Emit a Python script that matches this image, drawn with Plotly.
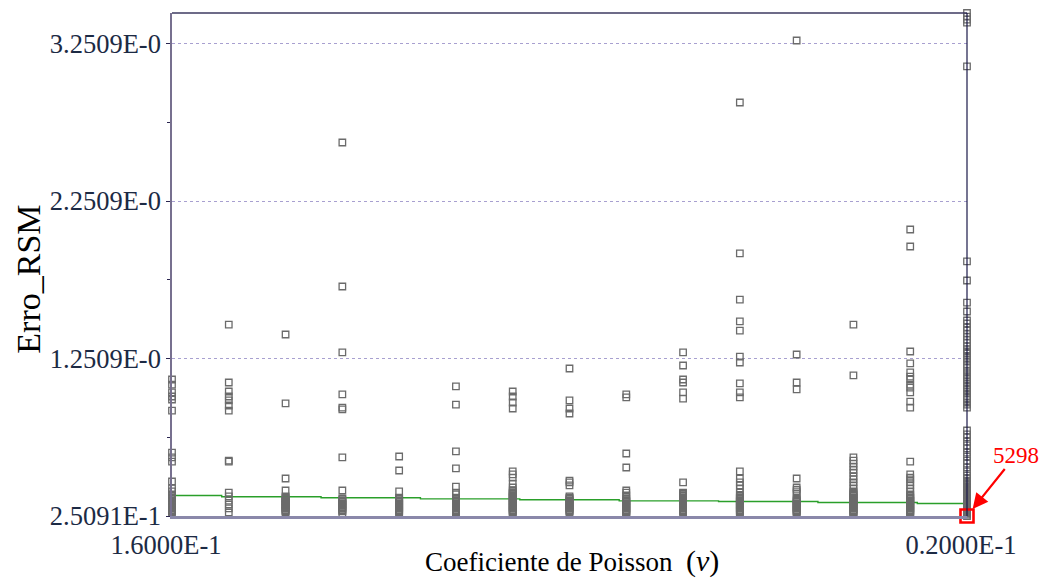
import plotly.graph_objects as go

# Poisson coefficient sampled at 15 levels between 0.16 and 0.20
nu_levels = [0.16, 0.162857, 0.165714, 0.168571, 0.171429, 0.174286, 0.177143, 0.18,
             0.182857, 0.185714, 0.188571, 0.191429, 0.194286, 0.197143, 0.2]

# RSM error of every evaluated design, grouped by Poisson level
erro_c00 = [1.118, 1.086, 1.036, 1.010, 0.991, 0.921, 0.654, 0.623, 0.597, 0.470, 0.426, 0.407,
            0.388, 0.381, 0.375, 0.368, 0.362, 0.356, 0.349, 0.343, 0.337, 0.330, 0.324, 0.318,
            0.311, 0.305, 0.299, 0.292, 0.286, 0.280, 0.273]
erro_c01 = [1.467, 1.099, 1.042, 1.010, 0.985, 0.953, 0.921, 0.603, 0.597, 0.400, 0.375, 0.349,
            0.324, 0.299, 0.273]
erro_c02 = [1.404, 0.966, 0.489, 0.413, 0.375, 0.368, 0.362, 0.356, 0.349, 0.343, 0.337, 0.330,
            0.324, 0.318, 0.311, 0.305, 0.299, 0.292, 0.286, 0.280, 0.273]
erro_c03 = [2.624, 1.709, 1.290, 1.023, 0.940, 0.928, 0.623, 0.413, 0.362, 0.356, 0.349, 0.343,
            0.337, 0.330, 0.324, 0.318, 0.311, 0.305, 0.299, 0.292, 0.286, 0.280, 0.267]
erro_c04 = [0.629, 0.540, 0.407, 0.368, 0.362, 0.356, 0.349, 0.343, 0.337, 0.330, 0.324, 0.318,
            0.311, 0.305, 0.299, 0.292, 0.286, 0.280, 0.273, 0.267]
erro_c05 = [1.074, 0.959, 0.661, 0.553, 0.438, 0.400, 0.388, 0.368, 0.362, 0.356, 0.349, 0.343,
            0.337, 0.330, 0.324, 0.318, 0.311, 0.305, 0.299, 0.292, 0.286, 0.280, 0.273, 0.267]
erro_c06 = [1.042, 1.010, 0.972, 0.934, 0.534, 0.515, 0.495, 0.457, 0.432, 0.413, 0.407, 0.400,
            0.394, 0.388, 0.381, 0.375, 0.368, 0.362, 0.356, 0.349, 0.343, 0.337, 0.330, 0.324,
            0.318, 0.311, 0.305, 0.299, 0.292, 0.286, 0.280, 0.273, 0.267]
erro_c07 = [1.188, 0.985, 0.934, 0.902, 0.476, 0.464, 0.445, 0.375, 0.368, 0.362, 0.356, 0.349,
            0.343, 0.337, 0.330, 0.324, 0.318, 0.311, 0.305, 0.299, 0.292, 0.286, 0.280, 0.273]
erro_c08 = [1.023, 1.004, 0.648, 0.559, 0.413, 0.400, 0.381, 0.362, 0.356, 0.349, 0.343, 0.337,
            0.330, 0.324, 0.318, 0.311, 0.305, 0.299, 0.292, 0.286, 0.280, 0.273, 0.267, 0.260]
erro_c09 = [1.290, 1.207, 1.118, 1.099, 1.036, 0.997, 0.464, 0.400, 0.394, 0.388, 0.381, 0.375,
            0.368, 0.362, 0.356, 0.349, 0.343, 0.337, 0.330, 0.324, 0.318, 0.311, 0.305, 0.299,
            0.292, 0.286, 0.280, 0.273]
erro_c10 = [2.878, 1.919, 1.626, 1.487, 1.429, 1.264, 1.226, 1.093, 1.036, 1.004, 0.534, 0.489,
            0.464, 0.445, 0.426, 0.400, 0.381, 0.375, 0.368, 0.362, 0.356, 0.349, 0.343, 0.337,
            0.330, 0.324, 0.318, 0.311, 0.305, 0.299, 0.292, 0.286, 0.280, 0.273, 0.260]
erro_c11 = [3.272, 1.277, 1.099, 1.055, 0.489, 0.432, 0.419, 0.407, 0.394, 0.362, 0.356, 0.349,
            0.343, 0.337, 0.330, 0.324, 0.318, 0.311, 0.305, 0.299, 0.292, 0.286, 0.280, 0.273,
            0.267]
erro_c12 = [1.467, 1.144, 0.623, 0.603, 0.584, 0.565, 0.546, 0.527, 0.502, 0.483, 0.464, 0.445,
            0.426, 0.407, 0.400, 0.394, 0.388, 0.381, 0.375, 0.368, 0.362, 0.356, 0.349, 0.343,
            0.337, 0.330, 0.324, 0.318, 0.311, 0.305, 0.299, 0.292, 0.286, 0.280, 0.273, 0.267,
            0.260]
erro_c13 = [2.071, 1.963, 1.296, 1.220, 1.163, 1.137, 1.118, 1.086, 1.067, 1.036, 0.978, 0.940,
            0.597, 0.515, 0.495, 0.483, 0.464, 0.445, 0.426, 0.407, 0.388, 0.381, 0.375, 0.368,
            0.362, 0.356, 0.349, 0.343, 0.337, 0.330, 0.324, 0.318, 0.311, 0.305, 0.299, 0.292,
            0.286, 0.280, 0.273, 0.267, 0.260]
erro_c14 = [3.4466, 3.424, 3.405, 3.386, 3.107, 1.868, 1.747, 1.607, 1.550, 1.493, 1.474, 1.448,
            1.429, 1.410, 1.391, 1.372, 1.353, 1.328, 1.309, 1.296, 1.283, 1.264, 1.245, 1.232,
            1.213, 1.194, 1.175, 1.163, 1.144, 1.131, 1.112, 1.093, 1.080, 1.061, 1.042, 1.029,
            1.010, 0.991, 0.972, 0.959, 0.940, 0.794, 0.769, 0.750, 0.724, 0.699, 0.680, 0.654,
            0.629, 0.603, 0.584, 0.559, 0.534, 0.508, 0.489, 0.476, 0.470, 0.464, 0.457, 0.451,
            0.445, 0.438, 0.432, 0.426, 0.419, 0.413, 0.407, 0.400, 0.394, 0.388, 0.381, 0.375,
            0.368, 0.362, 0.356, 0.349, 0.343, 0.337, 0.330, 0.324, 0.318, 0.311, 0.305, 0.299,
            0.292, 0.286, 0.280, 0.273, 0.267, 0.260, 0.25091]

erro_columns = [erro_c00, erro_c01, erro_c02, erro_c03, erro_c04, erro_c05, erro_c06, erro_c07,
                erro_c08, erro_c09, erro_c10, erro_c11, erro_c12, erro_c13, erro_c14]

# Smoothed trend of the error (step line)
trend_x = [0.16, 0.1625, 0.1675, 0.1725, 0.1775, 0.1825, 0.1875, 0.1925, 0.1975, 0.2]
trend_y = [0.381, 0.373, 0.367, 0.360, 0.354, 0.347, 0.343, 0.337, 0.330, 0.330]

# Best design
best_id = "5298"
best_nu = 0.2
best_erro = 0.25091

# Axis ticks
y_tickvals = [0.25091, 1.2509, 2.2509, 3.2509]
y_ticktext = ["2.5091E-1", "1.2509E-0", "2.2509E-0", "3.2509E-0"]
y_minor = [0.7509, 1.7509, 2.7509]
x_tickvals = [0.16, 0.2]
x_ticktext = ["1.6000E-1", "0.2000E-1"]
y_range = [0.25091, 3.4466]

xs, ys = [], []
for nu, col in zip(nu_levels, erro_columns):
    xs.extend([nu] * len(col))
    ys.extend(col)

serif = "Liberation Serif"
tick_color = "#1c2a44"

fig = go.Figure()

fig.add_trace(go.Scatter(
    x=trend_x, y=trend_y, mode="lines", line=dict(color="#2a9f2a", width=1.4, shape="hv"),
    hoverinfo="skip", showlegend=False, cliponaxis=False,
))

fig.add_trace(go.Scatter(
    x=xs, y=ys, mode="markers",
    marker=dict(symbol="square-open", size=6.5, color="#6b6b6b", line=dict(width=1.3)),
    hoverinfo="skip", showlegend=False, cliponaxis=False,
))

fig.add_trace(go.Scatter(
    x=[best_nu], y=[best_erro], mode="markers",
    marker=dict(symbol="square-open", size=13, color="#ff0000", line=dict(width=2.6)),
    hoverinfo="skip", showlegend=False, cliponaxis=False,
))

fig.update_layout(
    width=1044, height=578,
    margin=dict(l=172, r=77, t=13, b=62),
    paper_bgcolor="white", plot_bgcolor="white",
    font=dict(family=serif, color=tick_color),
    xaxis=dict(
        range=[0.16, 0.2], tickmode="array", tickvals=x_tickvals, ticktext=x_ticktext,
        tickfont=dict(size=26.5, color=tick_color), ticks="", showgrid=False, zeroline=False,
        showline=True, linecolor="#8a88aa", linewidth=2.5, ticklabelshift=-6,
        ticklabelstandoff=3,
    ),
    yaxis=dict(
        range=y_range, tickmode="array", tickvals=y_tickvals, ticktext=y_ticktext,
        tickfont=dict(size=26.5, color=tick_color), ticks="outside", ticklen=4,
        tickcolor="#2a2550", tickwidth=1,
        showgrid=True, gridcolor="#a8a0d0", griddash="dot", gridwidth=1, zeroline=False,
        showline=True, linecolor="#77708f", linewidth=1.5,
        minor=dict(tickvals=y_minor, ticks="outside", ticklen=3, tickcolor="#2a2550",
                   showgrid=False),
    ),
    shapes=[
        dict(type="line", xref="paper", yref="paper", x0=0, x1=1, y0=1, y1=1,
             line=dict(color="#3d3a60", width=1.5), layer="above"),
        dict(type="line", xref="paper", yref="paper", x0=1, x1=1, y0=0, y1=1,
             line=dict(color="#1a1848", width=1.2), layer="above"),
    ],
    annotations=[
        dict(text="Erro_RSM", xref="paper", yref="paper", x=-0.181, y=0.47,
             xanchor="center", yanchor="middle",
             textangle=-90, showarrow=False, font=dict(size=34, color="black", family=serif)),
        dict(text="Coeficiente de Poisson  <span style='font-size:30px'>(<i>ν</i>)</span>",
             xref="paper", yref="paper", x=0.503, y=-0.089,
             xanchor="center", yanchor="middle", showarrow=False,
             font=dict(size=27, color="black", family=serif)),
        dict(text=best_id, x=best_nu, y=best_erro, xref="x", yref="y",
             ax=49, ay=-61, showarrow=True, arrowhead=2, arrowsize=1.4, arrowwidth=2.2,
             arrowcolor="#ff0000", standoff=9,
             font=dict(size=23, color="#ff0000", family=serif)),
    ],
)

fig.write_html("out.html")
